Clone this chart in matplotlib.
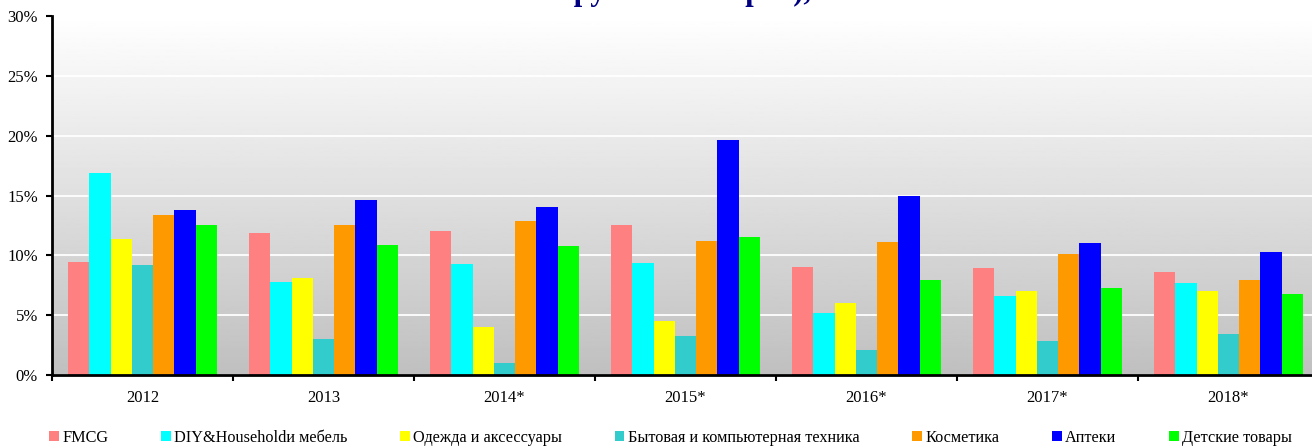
import numpy as np
import matplotlib
matplotlib.use("Agg")
import matplotlib.pyplot as plt
from matplotlib.ticker import FuncFormatter, FixedLocator

matplotlib.rcParams['font.family'] = ['Liberation Serif', 'DejaVu Serif']

years = ["2012", "2013", "2014*", "2015*", "2016*", "2017*", "2018*"]
series = ["FMCG", "DIY&Householdи мебель", "Одежда и аксессуары",
          "Бытовая и компьютерная техника", "Косметика", "Аптеки", "Детские товары"]
colors = ["#ff8080", "#00ffff", "#ffff00", "#33cccc", "#ff9900", "#0000ff", "#00ff00"]

fmcg = [9.45, 11.9, 12.0, 12.5, 9.0, 8.9, 8.6]
diy = [16.9, 7.8, 9.3, 9.4, 5.2, 6.6, 7.7]
clothes = [11.4, 8.1, 4.0, 4.5, 6.0, 7.0, 7.0]
electronics = [9.2, 3.0, 1.0, 3.3, 2.1, 2.8, 3.4]
cosmetics = [13.4, 12.5, 12.9, 11.2, 11.1, 10.1, 7.9]
pharmacy = [13.8, 14.6, 14.0, 19.6, 15.0, 11.0, 10.3]
kids = [12.5, 10.9, 10.8, 11.5, 7.9, 7.3, 6.8]
values = [fmcg, diy, clothes, electronics, cosmetics, pharmacy, kids]

W, H = 1312, 446
fig = plt.figure(figsize=(W / 100, H / 100), dpi=100)
ax = fig.add_axes([52 / W, 71 / H, 1267 / W, 359 / H])

# gradient background, white at top to grey at bottom
grad = np.linspace(0.75, 1.0, 256).reshape(-1, 1)
ax.imshow(grad, extent=[0, 1, 0, 1], transform=ax.transAxes, origin='lower',
          cmap='gray', vmin=0, vmax=1, aspect='auto', zorder=0)

x = np.arange(len(years))
bw = 0.1177
for j, (name, vals, c) in enumerate(zip(series, values, colors)):
    ax.bar(x + (j - 3) * bw, vals, width=bw, color=c, label=name, zorder=3, linewidth=0)

ax.set_xlim(-0.5, len(years) - 0.5)
ax.set_ylim(0, 30)
ax.set_yticks(np.arange(0, 31, 5))
ax.yaxis.set_major_formatter(FuncFormatter(lambda v, p: f"{v:.0f}%"))
ax.yaxis.grid(True, color='white', linewidth=1.3, zorder=1)
ax.set_axisbelow(True)

ax.xaxis.set_major_locator(FixedLocator(np.arange(-0.5, len(years), 1)))
ax.xaxis.set_major_formatter(FuncFormatter(lambda v, p: ""))
ax.xaxis.set_minor_locator(FixedLocator(x))
ax.set_xticks(x, years, minor=True)
ax.tick_params(axis='x', which='major', length=4, width=1.5, direction='out')
ax.tick_params(axis='x', which='minor', length=0, pad=11, labelsize=12)
ax.tick_params(axis='y', length=4, width=1.5, pad=6, labelsize=12)

for s in ['top', 'right']:
    ax.spines[s].set_visible(False)
for s in ['left', 'bottom']:
    ax.spines[s].set_linewidth(2)
    ax.spines[s].set_zorder(5)

fig.legend(loc='center left', bbox_to_anchor=(49 / W, 8 / H), ncol=7, frameon=False,
           fontsize=11.7, handlelength=0.6, handleheight=0.6, handletextpad=0.2,
           columnspacing=3.25, borderpad=0, borderaxespad=0)

# title sits mostly above the canvas, only descenders show
fig.text(0.537, 1.0, "Темпы роста продаж (по\nгруппам товаров), %", ha='center', va='baseline',
         ma='center', fontsize=22, fontweight='bold', color='#000080')

fig.savefig("out.png", dpi=100)
